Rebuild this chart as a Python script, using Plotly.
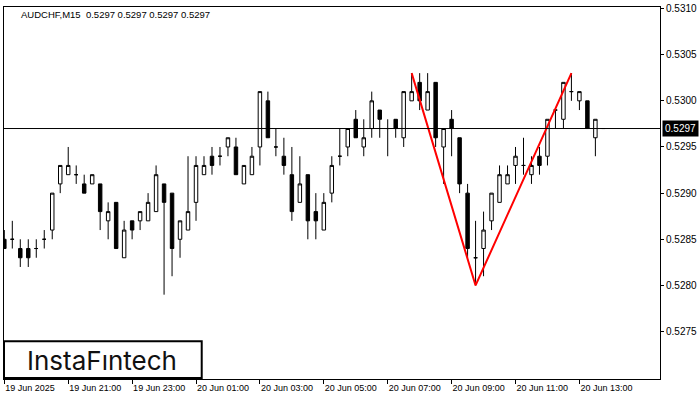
import plotly.graph_objects as go

# ---- data (AUDCHF M15) ----
opens = [0.5285, 0.5285, 0.5284, 0.5284, 0.5284, 0.5285, 0.5286, 0.5291, 0.5292, 0.5292,
         0.5291, 0.5291, 0.5291, 0.5287, 0.5289, 0.5283, 0.5287, 0.5287, 0.5287, 0.5288,
         0.5291, 0.5290, 0.5285, 0.5286, 0.5289, 0.5292, 0.5294, 0.5294, 0.5295, 0.5295,
         0.5291, 0.5292, 0.5295, 0.5300, 0.5295, 0.5294, 0.5292, 0.5289, 0.5292, 0.5288,
         0.5286, 0.5290, 0.5294, 0.5295, 0.5298, 0.5295, 0.5297, 0.5299, 0.5297, 0.5298,
         0.5296, 0.5300, 0.5302, 0.5299, 0.5302, 0.5295, 0.5298, 0.5296, 0.5290, 0.5283,
         0.5284, 0.5287, 0.5289, 0.5291, 0.5293, 0.5293, 0.5292, 0.5294, 0.5294, 0.5299,
         0.5298, 0.5301, 0.5300, 0.5300, 0.5296, 0.5297]
highs = [0.5286, 0.5287, 0.5285, 0.5285, 0.5285, 0.5286, 0.5290, 0.5293, 0.5295, 0.5293,
         0.5292, 0.5292, 0.5291, 0.5289, 0.5289, 0.5287, 0.5287, 0.5288, 0.5290, 0.5293,
         0.5291, 0.5290, 0.5287, 0.5294, 0.5294, 0.5294, 0.5295, 0.5295, 0.5296, 0.5296,
         0.5293, 0.5295, 0.5301, 0.5301, 0.5297, 0.5296, 0.5295, 0.5294, 0.5292, 0.5290,
         0.5290, 0.5294, 0.5297, 0.5297, 0.5299, 0.5298, 0.5301, 0.5299, 0.5298, 0.5298,
         0.5301, 0.5303, 0.5303, 0.5303, 0.5302, 0.5297, 0.5299, 0.5296, 0.5291, 0.5287,
         0.5288, 0.5290, 0.5293, 0.5293, 0.5295, 0.5296, 0.5294, 0.5295, 0.5298, 0.5299,
         0.5302, 0.5303, 0.5301, 0.5300, 0.5298, 0.5297]
lows = [0.5284, 0.5284, 0.5282, 0.5282, 0.5283, 0.5284, 0.5285, 0.5290, 0.5292, 0.5291,
        0.5290, 0.5291, 0.5286, 0.5285, 0.5284, 0.5283, 0.5285, 0.5286, 0.5287, 0.5288,
        0.5279, 0.5281, 0.5283, 0.5286, 0.5287, 0.5292, 0.5292, 0.5293, 0.5294, 0.5292,
        0.5291, 0.5292, 0.5293, 0.5296, 0.5294, 0.5292, 0.5287, 0.5289, 0.5285, 0.5285,
        0.5286, 0.5289, 0.5293, 0.5294, 0.5296, 0.5294, 0.5296, 0.5296, 0.5294, 0.5296,
        0.5295, 0.5300, 0.5299, 0.5299, 0.5295, 0.5291, 0.5294, 0.5290, 0.5283, 0.5280,
        0.5281, 0.5286, 0.5289, 0.5291, 0.5291, 0.5292, 0.5291, 0.5292, 0.5293, 0.5297,
        0.5297, 0.5300, 0.5299, 0.5297, 0.5294, 0.5297]
closes = [0.5284, 0.5285, 0.5283, 0.5283, 0.5284, 0.5285, 0.5290, 0.5293, 0.5293, 0.5292,
          0.5290, 0.5292, 0.5288, 0.5288, 0.5284, 0.5286, 0.5286, 0.5288, 0.5289, 0.5292,
          0.5289, 0.5284, 0.5287, 0.5288, 0.5293, 0.5293, 0.5293, 0.5294, 0.5296, 0.5292,
          0.5293, 0.5294, 0.5301, 0.5296, 0.5295, 0.5293, 0.5288, 0.5291, 0.5287, 0.5287,
          0.5289, 0.5293, 0.5294, 0.5297, 0.5296, 0.5296, 0.5300, 0.5298, 0.5297, 0.5297,
          0.5301, 0.5301, 0.5300, 0.5301, 0.5296, 0.5297, 0.5297, 0.5291, 0.5284, 0.5283,
          0.5286, 0.5290, 0.5292, 0.5292, 0.5294, 0.5293, 0.5293, 0.5293, 0.5298, 0.5299,
          0.5302, 0.5301, 0.5301, 0.5297, 0.5298, 0.5297]

tick_idx = [0, 8, 16, 24, 32, 40, 48, 56, 64, 72]
tick_labels = ["19 Jun 2025", "19 Jun 21:00", "19 Jun 23:00", "20 Jun 01:00", "20 Jun 03:00",
               "20 Jun 05:00", "20 Jun 07:00", "20 Jun 09:00", "20 Jun 11:00", "20 Jun 13:00"]
price_ticks = [0.5275, 0.5280, 0.5285, 0.5290, 0.5295, 0.5300, 0.5305, 0.5310]

pattern_idx = [51, 59, 71]
pattern_price = [0.5303, 0.5280, 0.5303]

last_price = 0.5297
title_text = "AUDCHF,M15  0.5297 0.5297 0.5297 0.5297"

x = list(range(len(opens)))

fig = go.Figure()
fig.add_trace(go.Candlestick(
    x=x, open=opens, high=highs, low=lows, close=closes,
    increasing=dict(line=dict(color="black", width=1), fillcolor="white"),
    decreasing=dict(line=dict(color="black", width=1), fillcolor="black"),
    whiskerwidth=0, hoverinfo="skip", showlegend=False,
))
fig.add_trace(go.Scatter(
    x=pattern_idx, y=pattern_price, mode="lines",
    line=dict(color="#ff0000", width=2), hoverinfo="skip", showlegend=False,
))

fig.add_shape(type="line", xref="paper", x0=0, x1=1, yref="y", y0=last_price, y1=last_price,
              line=dict(color="black", width=1))

# logo box
fig.add_shape(type="rect", xref="paper", yref="paper", x0=0.0, x1=0.3014, y0=0.0027, y1=0.1013,
              line=dict(color="black", width=2), fillcolor="white", layer="above")
fig.add_annotation(xref="paper", yref="paper", x=0.149, y=0.050, text="InstaF\u0131ntech",
                   showarrow=False, xanchor="center", yanchor="middle",
                   font=dict(family="Inter", size=26, color="#111111"))

fig.add_annotation(xref="paper", yref="paper", x=0.0228, y=0.981, text=title_text,
                   showarrow=False, xanchor="left", yanchor="middle",
                   font=dict(family="Liberation Sans", size=9.5, color="black"))

fig.add_annotation(xref="paper", yref="y", x=1.003, y=last_price, text=f"{last_price:.4f}",
                   showarrow=False, xanchor="left", yanchor="middle", bgcolor="black",
                   borderpad=2, font=dict(family="Liberation Sans", size=10, color="white"))

fig.update_layout(
    width=700, height=400,
    margin=dict(l=3, r=40, t=4, b=21),
    paper_bgcolor="white", plot_bgcolor="white",
    boxgap=0.38,
    xaxis=dict(range=[-0.04, 82.09], showgrid=False, zeroline=False,
               showline=True, mirror=True, linecolor="black", linewidth=1,
               tickmode="array", tickvals=tick_idx, ticktext=tick_labels,
               ticks="outside", ticklen=4, tickcolor="black",
               ticklabelposition="outside right",
               tickfont=dict(family="Liberation Sans", size=9, color="black"),
               rangeslider=dict(visible=False), fixedrange=True),
    yaxis=dict(range=[0.5269865, 0.5310165], side="right", showgrid=False, zeroline=False,
               showline=True, mirror=True, linecolor="black", linewidth=1,
               tickmode="array", tickvals=price_ticks,
               ticktext=[f"{v:.4f}" for v in price_ticks],
               ticks="outside", ticklen=3, tickcolor="black", ticklabeloverflow="allow",
               tickfont=dict(family="Liberation Sans", size=10, color="black"), fixedrange=True),
)

fig.write_html("out.html", config={"displayModeBar": False},
               post_script="document.body.style.margin='0';")
